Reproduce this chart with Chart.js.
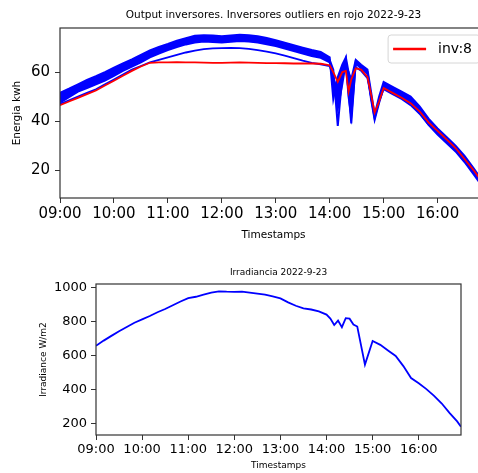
<!DOCTYPE html>
<html>
<head>
<meta charset="utf-8">
<script src="https://cdn.jsdelivr.net/npm/chart.js@4.4.0/dist/chart.umd.min.js"></script>
<style>
    html, body { margin: 0; padding: 0; background: #fff; overflow: hidden; width: 478px; height: 473px; }
    #graficoInversores { position: absolute; left: 0; top: 0; }
    #graficoIrradiancia { position: absolute; left: 0; top: 245px; }
</style>
</head>
<body>
<canvas id="graficoInversores" width="500" height="245"></canvas>
<canvas id="graficoIrradiancia" width="478" height="228"></canvas>
<script>
// Datos (energia por inversor, kWh)
const horasInv = ['09:00','09:10','09:20','09:30','09:40','09:50',
    '10:00','10:10','10:20','10:30','10:40','10:50',
    '11:00','11:10','11:20','11:30','11:40','11:50',
    '12:00','12:10','12:20','12:30','12:40','12:50',
    '13:00','13:10','13:20','13:30','13:40','13:50',
    '14:00','14:04','14:09','14:14','14:18','14:21','14:24','14:29','14:35','14:42','14:46','14:50','14:55',
    '15:00','15:10','15:20','15:30','15:40','15:50',
    '16:00','16:10','16:20','16:30','16:40','16:50','16:55'];

const inv8 = [46.5,48,49.5,51,52.5,54.5,
    56.5,58.5,60.5,62.3,63.8,64,
    64,64.1,64,64,63.9,63.8,
    63.8,63.9,64,63.9,63.8,63.7,
    63.7,63.6,63.5,63.5,63.5,63.4,
    62.8,60,56,60,60.5,52,57,61.5,61,58,51,43.5,48,
    53.5,51.5,49.5,47.3,44,39.5,
    36,32.5,29,24.5,20,15,13];

const invBajo = [47,48.5,50,51.5,53,55,
    57,59,61,62.5,64,65,
    66,67,68,68.8,69.4,69.7,
    69.8,69.9,69.8,69.5,69,68.4,
    67.6,66.7,65.7,64.7,63.8,63.2,
    62.4,58,52,61,63,60,55,62,60.5,57.5,50,42,48,
    53,51,49,46.5,43,38.5,
    35,31.5,28,23.5,19,14.5,12.5];

const invAlto = [51.5,53.2,55,56.8,58.3,60,
    61.8,63.5,65.2,67,68.8,70.3,
    71.5,72.8,73.8,74.8,75,74.9,
    74.6,74.9,75.2,75,74.6,73.9,
    73,72,71,70,69,68.2,
    66,49,58,63,66,60,57,65,63,61,52,42.5,50,
    56,54,52,50,46,41,
    37,33.5,30,25.8,20.8,15.5,13.2];

const invMedio = [49.5,51.5,53.5,55,56.5,58,
    60,62,63.6,65.5,67.5,69,
    70.2,71.5,72.6,73.4,73.8,73.5,
    73.3,73.6,74,73.8,73.4,72.7,
    71.8,70.8,69.8,68.8,67.8,67,
    65,61,38,58,65,52,39,64.2,62.2,60.1,50,41.2,48.6,
    54.7,52.7,50.6,48.6,44.5,39.7,
    35.6,32.2,28.8,24.5,19.5,14.2,12];

const invBase = [47.5,49.8,52,53.5,55,56.5,
    58.5,60.5,62.2,64,66,67.6,
    69,70.2,71.3,72.1,72.5,72.3,
    72.1,72.4,72.7,72.5,72.1,71.4,
    70.6,69.6,68.6,67.6,66.6,65.8,
    64,57,45,55,64,50,42,63.5,61.5,59.3,49,40.5,47.5,
    53.5,51.5,49.5,47.3,43.2,38.5,
    34.5,31,27.6,23.3,18.3,13.2,11];

// Irradiancia W/m2
const horasIrr = ['09:00','09:10','09:20','09:30','09:40','09:50',
    '10:00','10:10','10:20','10:30','10:40','10:50',
    '11:00','11:10','11:20','11:30','11:40','11:50',
    '12:00','12:10','12:20','12:30','12:40','12:50',
    '13:00','13:10','13:20','13:30','13:40','13:50',
    '14:00','14:05','14:10','14:15','14:20','14:25','14:30','14:35','14:40','14:50',
    '15:00','15:10','15:20','15:30','15:40','15:50',
    '16:00','16:10','16:20','16:30','16:40','16:50','16:55'];

const irradiancia = [660,690,718,745,770,795,
    815,835,857,876,898,920,
    940,948,960,972,980,978,
    977,978,972,966,960,950,
    938,915,895,880,873,862,
    843,820,782,808,769,822,819,785,773,549,
    688,665,632,600,540,470,
    439,405,365,320,265,215,184];

const etiquetasHoras = ['09:00','10:00','11:00','12:00','13:00','14:00','15:00','16:00'];

const aMinutos = h => { const [hh, mm] = h.split(':').map(Number); return hh * 60 + mm; };
const aHora = m => String(Math.floor(m / 60)).padStart(2, '0') + ':' + String(m % 60).padStart(2, '0');
const puntos = (horas, valores) => horas.map((h, i) => ({x: aMinutos(h), y: valores[i]}));

Chart.defaults.font.family = "'DejaVu Sans', sans-serif";
Chart.defaults.color = '#000';
Chart.defaults.animation = false;

// recuadro completo del area (como matplotlib)
const marco = {
    id: 'marco',
    afterDatasetsDraw(chart) {
        const {ctx, chartArea: a} = chart;
        ctx.save();
        ctx.strokeStyle = '#333';
        ctx.lineWidth = 1.2;
        ctx.strokeRect(a.left, a.top, a.width, a.height);
        ctx.restore();
    }
};

// titulo centrado sobre el area de dibujo
const tituloCentrado = {
    id: 'tituloCentrado',
    afterDraw(chart, args, opts) {
        const {ctx, chartArea: a} = chart;
        ctx.save();
        ctx.font = opts.size + "px 'DejaVu Sans'";
        ctx.fillStyle = '#000';
        ctx.textAlign = 'center';
        ctx.textBaseline = 'middle';
        ctx.fillText(opts.text, (a.left + a.right) / 2, opts.y);
        ctx.restore();
    }
};

// leyenda dentro del grafico, arriba a la derecha
const leyendaRecuadro = {
    id: 'leyendaRecuadro',
    afterDraw(chart, args, opts) {
        const {ctx, chartArea: a} = chart;
        const ds = chart.data.datasets[0];
        ctx.save();
        ctx.font = "14px 'DejaVu Sans'";
        const ancho = 5 + 33 + 12 + ctx.measureText(ds.label).width + 8;
        const derecha = a.right - 7, arriba = a.top + 7, alto = 28;
        const izquierda = derecha - ancho;
        ctx.fillStyle = 'rgba(255,255,255,0.8)';
        ctx.strokeStyle = '#d6d6d6';
        ctx.lineWidth = 1;
        ctx.beginPath();
        ctx.roundRect(izquierda, arriba, ancho, alto, 3);
        ctx.fill();
        ctx.stroke();
        const yc = arriba + alto / 2;
        ctx.strokeStyle = ds.borderColor;
        ctx.lineWidth = 2.5;
        ctx.beginPath();
        ctx.moveTo(izquierda + 5, yc);
        ctx.lineTo(izquierda + 38, yc);
        ctx.stroke();
        ctx.fillStyle = '#000';
        ctx.textBaseline = 'middle';
        ctx.fillText(ds.label, izquierda + 50, yc);
        ctx.restore();
    }
};

function ejeX(fuente, relleno, fuenteTitulo, rellenoTitulo, alto) {
    return {
        type: 'linear',
        min: aMinutos(horasInv[0]),
        max: aMinutos(horasInv[horasInv.length - 1]),
        afterBuildTicks: s => { s.ticks = etiquetasHoras.map(h => ({value: aMinutos(h)})); },
        afterFit: s => { s.height = alto; },
        ticks: {font: {size: fuente}, padding: relleno, maxRotation: 0, autoSkip: false, callback: v => aHora(v)},
        grid: {drawOnChartArea: false, tickLength: 5, color: '#333'},
        border: {display: false},
        title: {display: true, text: 'Timestamps', font: {size: fuenteTitulo}, padding: {top: 0, bottom: rellenoTitulo}}
    };
}

function ejeY(min, max, paso, fuente, relleno, texto, fuenteTitulo, rellenoTitulo, ancho) {
    return {
        min: min, max: max,
        afterFit: s => { s.width = ancho; },
        ticks: {stepSize: paso, includeBounds: false, font: {size: fuente}, padding: relleno, callback: v => String(v)},
        grid: {drawOnChartArea: false, tickLength: 5, color: '#333'},
        border: {display: false},
        title: {display: true, text: texto, font: {size: fuenteTitulo}, padding: {top: rellenoTitulo, bottom: 0}}
    };
}

const linea = (label, valores, color, ancho, relleno) => ({
    label: label,
    data: puntos(horasInv, valores),
    borderColor: color,
    backgroundColor: color,
    borderWidth: ancho,
    pointRadius: 0,
    tension: 0,
    fill: relleno || false
});

new Chart(document.getElementById('graficoInversores'), {
    type: 'line',
    data: {
        datasets: [
            linea('inv:8', inv8, '#ff0000', 1.8),
            linea('inv bajo', invBajo, '#0000ff', 1.8),
            linea('inv alto', invAlto, '#0000ff', 2, '+2'),
            linea('inv medio', invMedio, '#0000ff', 2),
            linea('inv base', invBase, '#0000ff', 2)
        ]
    },
    options: {
        responsive: false,
        layout: {padding: {top: 28, right: 13, left: 0, bottom: 0}},
        scales: {
            x: ejeX(15, 2, 10.5, 3.7, 47),
            y: ejeY(8.6, 78, 20, 15, 5, 'Energia kwh', 10.5, 10.7, 60)
        },
        plugins: {
            legend: {display: false},
            tooltip: {enabled: false},
            filler: {propagate: false},
            tituloCentrado: {text: 'Output inversores. Inversores outliers en rojo 2022-9-23', size: 10.5, y: 15}
        }
    },
    plugins: [marco, tituloCentrado, leyendaRecuadro]
});

new Chart(document.getElementById('graficoIrradiancia'), {
    type: 'line',
    data: {
        datasets: [{
            label: 'Irradiancia',
            data: puntos(horasIrr, irradiancia),
            borderColor: '#0000ff',
            borderWidth: 1.8,
            pointRadius: 0,
            tension: 0
        }]
    },
    options: {
        responsive: false,
        layout: {padding: {top: 39, right: 17, left: 0, bottom: 0}},
        scales: {
            x: ejeX(13, 2, 9, 1.6, 38),
            y: ejeY(135, 1023, 200, 13, 4, 'Irradiance W/m2', 9, 38.6, 96)
        },
        plugins: {
            legend: {display: false},
            tooltip: {enabled: false},
            tituloCentrado: {text: 'Irradiancia 2022-9-23', size: 9, y: 28}
        }
    },
    plugins: [marco, tituloCentrado]
});
</script>
</body>
</html>
